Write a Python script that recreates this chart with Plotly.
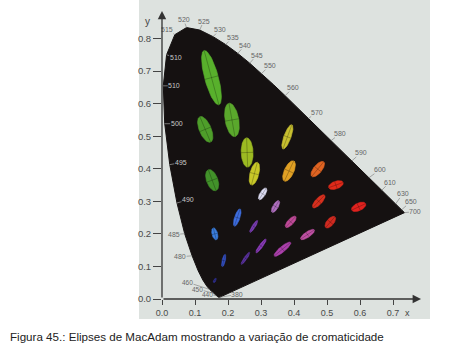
import numpy as np
import plotly.graph_objects as go

# ---------------- data ----------------
# CIE 1931 spectral locus (nm, x, y)
locus_wl = [380, 385, 390, 395, 400, 405, 410, 415, 420, 425, 430, 435, 440, 445, 450, 455,
            460, 465, 470, 475, 480, 485, 490, 495, 500, 505, 510, 515, 520, 525, 530, 535,
            540, 545, 550, 555, 560, 565, 570, 575, 580, 585, 590, 595, 600, 605, 610, 615,
            620, 625, 630, 635, 640, 645, 650, 655, 660, 665, 670, 675, 680, 685, 690, 695, 700]
locus_x = [0.1741, 0.1740, 0.1738, 0.1736, 0.1733, 0.1730, 0.1726, 0.1721, 0.1714, 0.1703,
           0.1689, 0.1669, 0.1644, 0.1611, 0.1566, 0.1510, 0.1440, 0.1355, 0.1241, 0.1096,
           0.0913, 0.0687, 0.0454, 0.0235, 0.0082, 0.0039, 0.0139, 0.0389, 0.0743, 0.1142,
           0.1547, 0.1929, 0.2296, 0.2658, 0.3016, 0.3373, 0.3731, 0.4087, 0.4441, 0.4788,
           0.5125, 0.5448, 0.5752, 0.6029, 0.6270, 0.6482, 0.6658, 0.6801, 0.6915, 0.7006,
           0.7079, 0.7140, 0.7190, 0.7230, 0.7260, 0.7283, 0.7300, 0.7311, 0.7320, 0.7327,
           0.7334, 0.7340, 0.7344, 0.7346, 0.7347]
locus_y = [0.0050, 0.0050, 0.0049, 0.0049, 0.0048, 0.0048, 0.0048, 0.0048, 0.0051, 0.0058,
           0.0069, 0.0086, 0.0109, 0.0138, 0.0177, 0.0227, 0.0297, 0.0399, 0.0578, 0.0868,
           0.1327, 0.2007, 0.2950, 0.4127, 0.5384, 0.6548, 0.7502, 0.8120, 0.8338, 0.8262,
           0.8059, 0.7816, 0.7543, 0.7243, 0.6923, 0.6589, 0.6245, 0.5896, 0.5547, 0.5202,
           0.4866, 0.4544, 0.4242, 0.3965, 0.3725, 0.3514, 0.3340, 0.3197, 0.3083, 0.2993,
           0.2920, 0.2859, 0.2809, 0.2770, 0.2740, 0.2717, 0.2700, 0.2689, 0.2680, 0.2673,
           0.2666, 0.2660, 0.2656, 0.2654, 0.2653]

# MacAdam (1942) ellipses: centre x, y, semi-axes a, b (x1e-3), angle (deg)
ell_x = [0.160, 0.187, 0.253, 0.150, 0.131, 0.212, 0.258, 0.152, 0.280, 0.380, 0.160, 0.228, 0.305,
         0.385, 0.472, 0.527, 0.475, 0.510, 0.596, 0.344, 0.390, 0.441, 0.278, 0.300, 0.365]
ell_y = [0.057, 0.118, 0.125, 0.680, 0.521, 0.550, 0.450, 0.365, 0.385, 0.498, 0.200, 0.250, 0.323,
         0.393, 0.399, 0.350, 0.300, 0.236, 0.283, 0.284, 0.237, 0.198, 0.223, 0.163, 0.153]
ell_a = [0.85, 2.2, 2.5, 9.6, 4.7, 5.8, 5.0, 3.8, 4.0, 4.4, 2.1, 3.1, 2.3,
         3.8, 3.2, 2.6, 2.9, 2.4, 2.6, 2.3, 2.5, 2.8, 2.4, 2.9, 3.6]
ell_b = [0.35, 0.55, 0.5, 2.3, 2.0, 2.3, 2.0, 1.9, 1.5, 1.2, 0.95, 0.9, 0.9,
         1.6, 1.4, 1.3, 1.1, 1.2, 1.3, 0.9, 1.0, 0.95, 0.55, 0.6, 0.95]
ell_theta = [62.5, 77, 55.5, 105, 112.5, 100, 92, 110, 75.5, 70, 104, 72, 58,
             65.5, 51, 20, 47, 50, 25, 60, 47, 34.5, 57.5, 54, 40]
ell_color = ["#3535a5", "#3552c8", "#6035a8", "#58b02c", "#4e9e2a", "#5aa82c", "#9cba22", "#42922a",
             "#c8c828", "#c8c030", "#3a7ede", "#3e6ee0", "#dcdcf2", "#e0a024", "#e06422", "#e02a1a",
             "#d8301e", "#d02a20", "#e0221e", "#b070c0", "#c04a98", "#c050a4", "#8040bc", "#8c3cbc",
             "#ac40ac"]

# wavelength labels along the locus
lab_wl = [515, 520, 525, 530, 535, 540, 545, 550, 560, 570, 580, 590, 600, 610, 630, 650, 700,
          510, 505, 500, 495, 490, 485, 480, 460, 450, 440, 380]
lab_text = ["515", "520", "525", "530", "535", "540", "545", "550", "560", "570", "580", "590",
            "600", "610", "630", "650", "700",
            "510", "510", "500", "495", "490", "485", "480", "460", "450", "440", "380"]

x_ticks = [0.0, 0.1, 0.2, 0.3, 0.4, 0.5, 0.6, 0.7]
y_ticks = [0.0, 0.1, 0.2, 0.3, 0.4, 0.5, 0.6, 0.7, 0.8]
caption = "Figura 45.: Elipses de MacAdam mostrando a variação de cromaticidade"

# ---------------- style / layout ----------------
W, H = 461, 356
L, B = 162, 299           # pixel position of data origin
SX, SY = 330.0, 326.0     # pixels per unit
XR, YR = 0.80, 0.90
ELL_SCALE = 9             # enlargement of the ellipses
lab_off = [(-8, -5), (-3, -8), (4, -9), (7, -7), (7, -7), (7, -8), (7, -8), (8, -8), (8, -8),
           (8, -6), (9, -7), (9, -8), (11, -8), (8, -8), (7, -10), (9, -8), (11, -1),
           (9, 3), (11, 0), (12, 0), (11, -2), (11, -3), (-11, 1), (-12, 1), (-22, -7),
           (-16, -4), (-9, -1), (18, -3)]
lab_inside = [False] * 17 + [True] * 5 + [False] * 6
lab_size = [7] * 24 + [6.5, 6.5, 6.5, 7]

BG = "#dde2df"
BLACK = "#151111"
TXT = "#4a4a4a"
FONT = "Liberation Sans, Arial"

fig = go.Figure()


def px2paper_x(p):
    return (p - L) / (SX * XR)


def px2paper_y(p):
    return (B - p) / (SY * YR)


# background panel (photo of the figure)
fig.add_shape(type="rect", xref="paper", yref="paper", layer="below",
              x0=px2paper_x(139), x1=px2paper_x(430), y0=px2paper_y(319), y1=px2paper_y(-2),
              fillcolor=BG, line=dict(width=0))

# spectral locus
fig.add_trace(go.Scatter(x=locus_x + [locus_x[0]], y=locus_y + [locus_y[0]], mode="lines",
                         fill="toself", fillcolor=BLACK, line=dict(color=BLACK, width=1),
                         hoverinfo="skip", showlegend=False))

# ellipses
t = np.linspace(0, 2 * np.pi, 80)
for cx, cy, a, b, th, col in zip(ell_x, ell_y, ell_a, ell_b, ell_theta, ell_color):
    A = a * 1e-3 * ELL_SCALE
    Bb = b * 1e-3 * ELL_SCALE
    r = np.deg2rad(th)
    ex = cx + A * np.cos(t) * np.cos(r) - Bb * np.sin(t) * np.sin(r)
    ey = cy + A * np.cos(t) * np.sin(r) + Bb * np.sin(t) * np.cos(r)
    fig.add_trace(go.Scatter(x=ex, y=ey, mode="lines", fill="toself", fillcolor=col,
                             line=dict(color=col, width=0.6), hoverinfo="skip", showlegend=False))
    # axes of the ellipse
    fig.add_trace(go.Scatter(
        x=[cx - A * np.cos(r), cx + A * np.cos(r), None, cx + Bb * np.sin(r), cx - Bb * np.sin(r)],
        y=[cy - A * np.sin(r), cy + A * np.sin(r), None, cy - Bb * np.cos(r), cy + Bb * np.cos(r)],
        mode="lines", line=dict(color="rgba(0,0,0,0.35)", width=0.7),
        hoverinfo="skip", showlegend=False))

# wavelength labels
for w, txt, (dx, dy), ins, fs in zip(lab_wl, lab_text, lab_off, lab_inside, lab_size):
    i = locus_wl.index(w)
    fig.add_annotation(x=locus_x[i], y=locus_y[i], text=txt, showarrow=True, arrowhead=0,
                       ax=dx, ay=dy, arrowwidth=0.6,
                       arrowcolor="#bbbbbb" if ins else "#777777",
                       font=dict(size=fs, color="#c8c8c8" if ins else "#666666", family=FONT),
                       borderpad=0, standoff=0)

# axis arrows
fig.add_annotation(x=0.785, y=0, ax=0, ay=0, xref="x", yref="y", axref="x", ayref="y",
                   text="", showarrow=True, arrowhead=2, arrowsize=1.3, arrowwidth=1.3,
                   arrowcolor="#333333")
fig.add_annotation(x=0, y=0.885, ax=0, ay=0, xref="x", yref="y", axref="x", ayref="y",
                   text="", showarrow=True, arrowhead=2, arrowsize=1.3, arrowwidth=1.3,
                   arrowcolor="#333333")
fig.add_annotation(x=0, y=0.853, xref="x", yref="y", text="y", showarrow=False,
                   xshift=-15, font=dict(size=10, color="#444444", family=FONT))
fig.add_annotation(x=0.745, y=0, xref="x", yref="y", text="x", showarrow=False,
                   yshift=-14, font=dict(size=9, color="#444444", family=FONT))

# caption
fig.add_annotation(x=px2paper_x(8), y=px2paper_y(337), xref="paper", yref="paper",
                   xanchor="left", yanchor="middle", text=caption, showarrow=False,
                   font=dict(size=11.6, color="#222222", family=FONT))

fig.update_xaxes(range=[0, XR], tickvals=x_ticks, ticktext=[f"{v:.1f}" for v in x_ticks],
                 showgrid=False, zeroline=False, showline=False, ticks="outside", ticklen=5,
                 tickcolor="#444444", tickwidth=1,
                 tickfont=dict(size=9, color=TXT, family=FONT))
fig.update_yaxes(range=[0, YR], tickvals=y_ticks, ticktext=[f"{v:.1f}" for v in y_ticks],
                 showgrid=False, zeroline=False, showline=False, ticks="outside", ticklen=8,
                 tickcolor="#444444", tickwidth=1,
                 tickfont=dict(size=9.5, color=TXT, family=FONT))

fig.update_layout(width=W, height=H, autosize=False,
                  margin=dict(l=L, r=W - L - SX * XR, t=H - (H - B) - SY * YR, b=H - B, pad=0),
                  paper_bgcolor="white", plot_bgcolor="rgba(0,0,0,0)", showlegend=False)

fig.write_html("out.html")
